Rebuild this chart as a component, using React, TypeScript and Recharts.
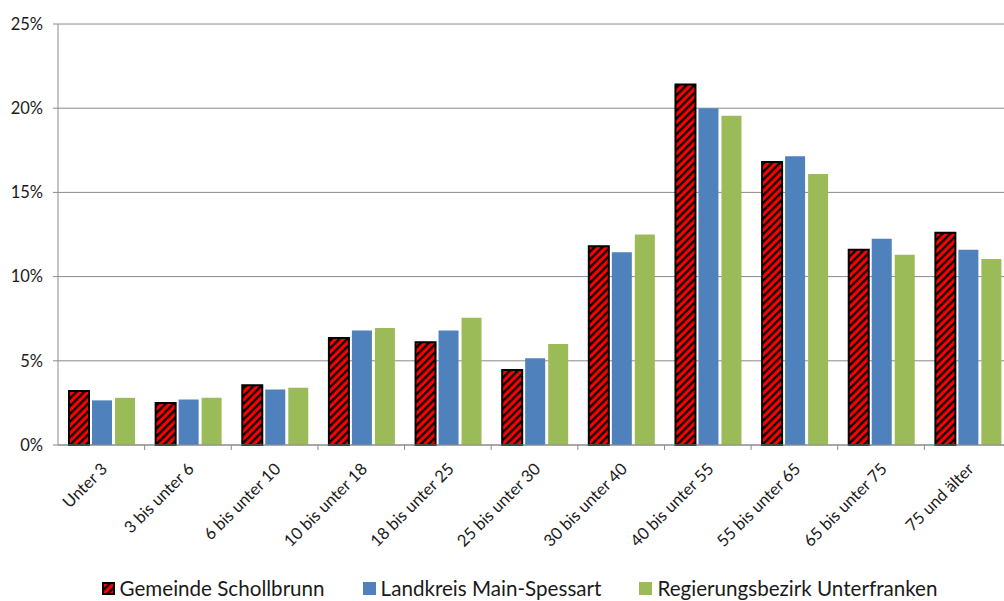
import React from 'react';
import { BarChart, Bar, XAxis, YAxis, CartesianGrid, Legend } from 'recharts';

// Altersgruppen (Anteil an der Bevölkerung in %)
const categories = [
  'Unter 3',
  '3 bis unter 6',
  '6 bis unter 10',
  '10 bis unter 18',
  '18 bis unter 25',
  '25 bis unter 30',
  '30 bis unter 40',
  '40 bis unter 55',
  '55 bis unter 65',
  '65 bis unter 75',
  '75 und älter',
];

const gemeinde = [3.2, 2.5, 3.55, 6.35, 6.1, 4.45, 11.8, 21.4, 16.8, 11.6, 12.6];
const landkreis = [2.65, 2.7, 3.3, 6.8, 6.8, 5.15, 11.45, 20.0, 17.15, 12.25, 11.6];
const bezirk = [2.8, 2.8, 3.4, 6.95, 7.55, 6.0, 12.5, 19.55, 16.1, 11.3, 11.05];

const yTicks = [0, 5, 10, 15, 20, 25];

const seriesNames = ['Gemeinde Schollbrunn', 'Landkreis Main-Spessart', 'Regierungsbezirk Unterfranken'];

const data = categories.map((name, i) => ({
  name,
  gemeinde: gemeinde[i],
  landkreis: landkreis[i],
  bezirk: bezirk[i],
}));

const FONT = 'Lato, "Open Sans", sans-serif';
const TEXT = '#1a1a1a';
const AXIS_GRAY = '#8a8a8a';
const BLUE = '#4F81BD';
const GREEN = '#9BBB59';

const CHART_W = 1030;
const CHART_H = 601;
const Y_AXIS_W = 58;
const MARGIN = { top: 24, right: 19, left: 0, bottom: 0 };
const HALF_BAND = (CHART_W - Y_AXIS_W - MARGIN.right - MARGIN.left) / categories.length / 2;

// Category label rotated by 45°, plus a tick mark on the boundary between groups
const XTick = (props: any) => {
  const { x, y, payload } = props;
  const tx = x + 3;
  const ty = y + 21;
  return (
    <g>
      <line x1={x + HALF_BAND} x2={x + HALF_BAND} y1={y} y2={y + 5} stroke={AXIS_GRAY} strokeWidth={1} />
      <text
        x={tx}
        y={ty}
        dy="0.35em"
        transform={`rotate(-45 ${tx} ${ty})`}
        textAnchor="end"
        fontFamily={FONT}
        fontSize={16.5}
        fill={TEXT}
      >
        {payload.value}
      </text>
    </g>
  );
};

const LegendContent = () => {
  const items = [
    { name: seriesNames[0], fill: 'url(#hatch)', stroke: '#000' },
    { name: seriesNames[1], fill: BLUE, stroke: 'none' },
    { name: seriesNames[2], fill: GREEN, stroke: 'none' },
  ];
  return (
    <div
      style={{
        height: 36,
        display: 'flex',
        justifyContent: 'center',
        alignItems: 'center',
        paddingTop: 10,
        paddingLeft: 28,
        boxSizing: 'border-box',
        fontFamily: FONT,
        fontSize: 20.6,
        color: TEXT,
      }}
    >
      {items.map((it, i) => (
        <div key={it.name} style={{ display: 'flex', alignItems: 'center', marginLeft: i === 0 ? 0 : 38 }}>
          <svg width={13} height={13} style={{ marginRight: 5 }}>
            <rect
              x={it.stroke === 'none' ? 0 : 1}
              y={it.stroke === 'none' ? 0 : 1}
              width={it.stroke === 'none' ? 13 : 11}
              height={it.stroke === 'none' ? 13 : 11}
              fill={it.fill}
              stroke={it.stroke}
              strokeWidth={2}
            />
          </svg>
          <span>{it.name}</span>
        </div>
      ))}
    </div>
  );
};

export default function App() {
  return (
    <div
      style={{
        position: 'absolute',
        left: 0,
        top: 0,
        width: 1004,
        height: 601,
        overflow: 'hidden',
        background: '#fff',
      }}
    >
      <BarChart
        width={CHART_W}
        height={CHART_H}
        data={data}
        margin={MARGIN}
        barCategoryGap={11}
        barGap={3}
      >
        <defs>
          <pattern id="hatch" patternUnits="userSpaceOnUse" width="5.5" height="5.5" patternTransform="rotate(45)">
            <rect width="5.5" height="5.5" fill="#FF0000" />
            <rect width="2.3" height="5.5" fill="#000" />
          </pattern>
        </defs>
        <CartesianGrid vertical={false} stroke={AXIS_GRAY} strokeWidth={1} />
        <XAxis
          dataKey="name"
          height={120}
          interval={0}
          tickLine={false}
          tickSize={0}
          tickMargin={0}
          axisLine={{ stroke: AXIS_GRAY, strokeWidth: 1 }}
          tick={<XTick />}
        />
        <YAxis
          width={Y_AXIS_W}
          domain={[0, 25]}
          ticks={yTicks}
          interval={0}
          tickFormatter={(v: number) => `${v}%`}
          tickSize={5}
          tickMargin={10}
          axisLine={{ stroke: AXIS_GRAY, strokeWidth: 1 }}
          tickLine={{ stroke: AXIS_GRAY }}
          tick={{ fontFamily: FONT, fontSize: 16.5, fill: TEXT }}
        />
        <Legend verticalAlign="bottom" height={36} content={<LegendContent />} />
        <Bar
          dataKey="gemeinde"
          name={seriesNames[0]}
          fill="url(#hatch)"
          stroke="#000"
          strokeWidth={2}
          isAnimationActive={false}
        />
        <Bar dataKey="landkreis" name={seriesNames[1]} fill={BLUE} isAnimationActive={false} />
        <Bar dataKey="bezirk" name={seriesNames[2]} fill={GREEN} isAnimationActive={false} />
      </BarChart>
    </div>
  );
}
